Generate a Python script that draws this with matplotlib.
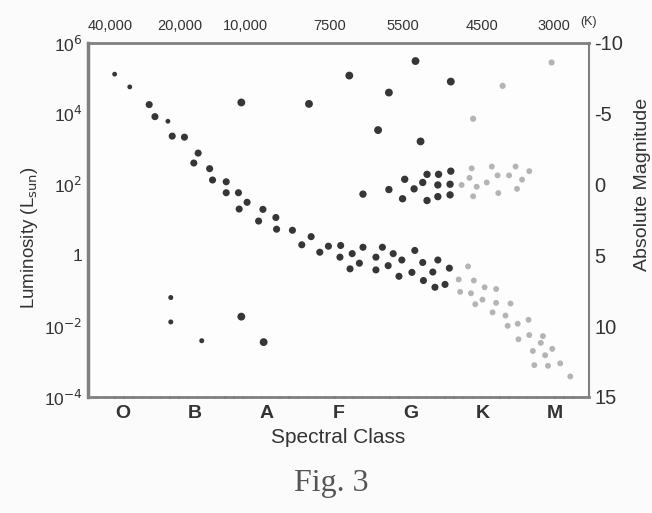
import numpy as np
import matplotlib
matplotlib.use("Agg")
import matplotlib.pyplot as plt

plt.rcParams['font.family'] = ['Liberation Sans', 'DejaVu Sans']

# ---- data (x = spectral class position, O=0 ... M=6; y = log10 L/Lsun) ----
ms_x = [-0.11, 0.10, 0.37, 0.45, 0.63, 0.69, 0.86, 1.05, 0.99, 1.21, 1.25, 1.44, 1.44, 1.61,
        1.73, 1.62, 1.95, 1.89, 2.13, 2.14, 2.36, 2.49, 2.62, 2.74, 2.86, 3.03, 3.02, 3.19,
        3.34, 3.29, 3.16, 3.52, 3.61, 3.76, 3.52, 3.69, 3.88, 3.84, 4.02, 4.06, 4.17, 4.18,
        4.31, 4.34, 4.38, 4.48, 4.54]
ms_y = [5.12, 4.76, 4.26, 3.92, 3.79, 3.37, 3.34, 2.89, 2.61, 2.45, 2.13, 2.08, 1.77, 1.77,
        1.50, 1.31, 1.30, 0.97, 1.07, 0.74, 0.71, 0.30, 0.53, 0.09, 0.26, 0.28, -0.05, 0.05,
        0.23, -0.22, -0.38, -0.05, 0.23, 0.05, -0.41, -0.29, -0.13, -0.59, -0.48, 0.14, -0.20,
        -0.71, -0.47, -0.90, -0.13, -0.82, -0.36]
ms_small = [0, 1, 4]

sg_x = [1.65, 2.59, 3.15, 4.07, 3.70, 4.56, 3.55, 4.14]
sg_y = [4.32, 4.28, 5.08, 5.49, 4.60, 4.91, 3.54, 3.22]

sg_light_x = [5.96, 5.28, 4.87]
sg_light_y = [5.45, 4.79, 3.86]

gb_x = [3.34, 3.70, 3.92, 3.89, 4.05, 4.17, 4.23, 4.23, 4.39, 4.38, 4.38, 4.56, 4.55, 4.55]
gb_y = [1.73, 1.86, 2.15, 1.60, 1.88, 2.06, 2.29, 1.55, 2.29, 1.99, 1.66, 2.38, 2.01, 1.71]

gb_light_x = [4.71, 4.85, 4.82, 4.92, 4.87, 5.06, 5.13, 5.21, 5.22, 5.37, 5.46, 5.55, 5.65, 5.48]
gb_light_y = [1.99, 2.46, 2.19, 1.94, 1.67, 2.06, 2.51, 2.26, 1.76, 2.26, 2.51, 2.14, 2.38, 1.88]

ms_light_x = [4.80, 4.67, 4.88, 4.69, 4.84, 5.03, 5.19, 5.00, 4.90, 5.19, 5.39, 5.14, 5.32,
              5.35, 5.49, 5.64, 5.50, 5.65, 5.84, 5.81, 5.97, 5.70, 5.87, 5.72, 5.91, 6.08, 6.22]
ms_light_y = [-0.31, -0.68, -0.71, -1.03, -1.07, -0.90, -0.95, -1.25, -1.38, -1.34, -1.36,
              -1.61, -1.70, -1.99, -1.93, -1.82, -2.37, -2.25, -2.28, -2.47, -2.64, -2.70,
              -2.82, -3.10, -3.12, -3.05, -3.42]

wd_small_x = [0.67, 0.67, 1.10]
wd_small_y = [-1.19, -1.88, -2.41]
wd_big_x = [1.65, 1.96]
wd_big_y = [-1.73, -2.45]

spectral_classes = ['O', 'B', 'A', 'F', 'G', 'K', 'M']
temp_labels = ['40,000', '20,000', '10,000', '7500', '5500', '4500', '3000']
temp_pos = [-0.17, 0.80, 1.71, 2.87, 3.90, 5.00, 5.99]
lum_ticks = [1e-4, 1e-2, 1, 1e2, 1e4, 1e6]
lum_labels = ['10$^{-4}$', '10$^{-2}$', '1', '10$^{2}$', '10$^{4}$', '10$^{6}$']
mag_ticks = [-10, -5, 0, 5, 10, 15]

# ---- figure ----
fig = plt.figure(figsize=(6.52, 5.13), dpi=100)
fig.patch.set_facecolor('#fbfbfb')
ax = fig.add_axes([88/652, 1-397/513, (589-88)/652, (397-43)/513])
ax.set_facecolor('#fdfdfd')

dark = '#363636'
light = '#b4b4b4'

def P(v):
    return 10 ** np.asarray(v)

msx = np.asarray(ms_x); msy = np.asarray(ms_y)
mask = np.ones(len(msx), bool); mask[ms_small] = False
ax.scatter(msx[mask], P(msy[mask]), s=26, color=dark, edgecolors='none', zorder=3)
ax.scatter(msx[~mask], P(msy[~mask]), s=12, color=dark, edgecolors='none', zorder=3)
ax.scatter(sg_x, P(sg_y), s=32, color=dark, edgecolors='none', zorder=3)
ax.scatter(gb_x, P(gb_y), s=28, color=dark, edgecolors='none', zorder=3)
ax.scatter(sg_light_x, P(sg_light_y), s=20, color=light, edgecolors='none', zorder=3)
ax.scatter(gb_light_x, P(gb_light_y), s=18, color=light, edgecolors='none', zorder=3)
ax.scatter(ms_light_x, P(ms_light_y), s=18, color=light, edgecolors='none', zorder=3)
ax.scatter(wd_small_x, P(wd_small_y), s=13, color=dark, edgecolors='none', zorder=3)
ax.scatter(wd_big_x, P(wd_big_y), s=32, color=dark, edgecolors='none', zorder=3)

ax.set_yscale('log')
ax.set_ylim(1e-4, 1e6)
ax.set_xlim(-0.48, 6.48)
ax.set_yticks(lum_ticks)
ax.set_yticklabels(lum_labels)
ax.minorticks_off()
ax.set_xticks(range(len(spectral_classes)))
ax.set_xticklabels(spectral_classes, fontweight='bold', fontsize=14, color='#333333')
ax.tick_params(axis='y', length=0, pad=4, labelsize=12.5, labelcolor='#333333')
ax.tick_params(axis='x', length=0, pad=6)

for side in ['left', 'top', 'right', 'bottom']:
    ax.spines[side].set_color('#808080')
ax.spines['left'].set_linewidth(2.5)
ax.spines['top'].set_linewidth(2.0)
ax.spines['right'].set_linewidth(1.5)
ax.spines['bottom'].set_linewidth(2.0)
ax.spines['bottom'].set_linestyle((0, (2.5, 0.8)))

ax.set_xlabel('Spectral Class', fontsize=15, color='#333333', labelpad=4)
ax.set_ylabel('Luminosity (L$_{\\rm sun}$)', fontsize=13.5, color='#333333')
ax.yaxis.set_label_coords(-0.095, 0.45)

# top axis (temperatures)
axt = ax.twiny()
axt.set_xlim(ax.get_xlim())
axt.set_xticks(temp_pos)
axt.set_xticklabels(temp_labels, fontsize=10.5, color='#333333')
axt.tick_params(axis='x', length=0, pad=7)
for s in axt.spines.values():
    s.set_visible(False)
ax.text(6.47, 1.058, '(K)', transform=ax.get_xaxis_transform(), fontsize=9,
        color='#333333', ha='center', va='center')

# right axis (absolute magnitude)
axr = ax.twinx()
axr.set_ylim(15, -10)
axr.set_yticks(mag_ticks)
axr.set_yticklabels([str(m) for m in mag_ticks])
axr.tick_params(axis='y', length=0, pad=4, labelsize=14.5, labelcolor='#333333')
for s in axr.spines.values():
    s.set_visible(False)
axr.set_ylabel('Absolute Magnitude', fontsize=14, color='#333333', rotation=90)
axr.yaxis.set_label_coords(1.09, 0.6)

fig.text(331/652, 1-483/513, 'Fig. 3', fontsize=23, color='#555555',
         family=['Liberation Serif', 'DejaVu Serif'], ha='center', va='center')

fig.savefig('out.png', dpi=100, facecolor=fig.get_facecolor())
